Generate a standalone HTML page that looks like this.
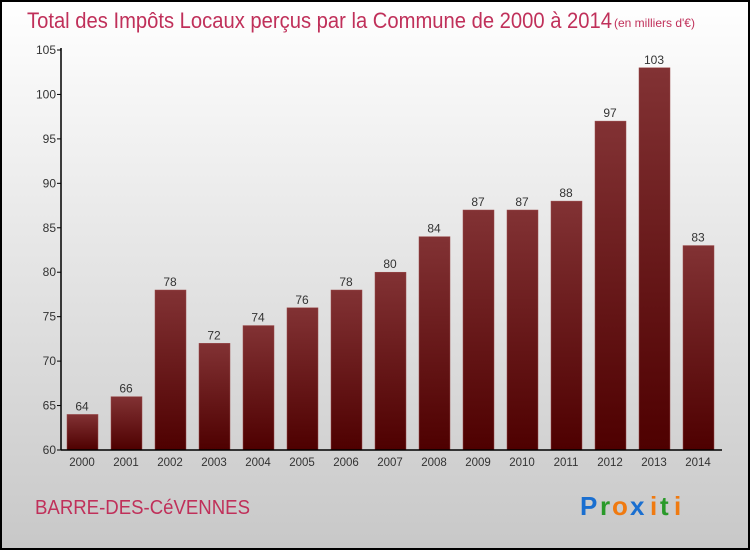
<!DOCTYPE html>
<html><head><meta charset="utf-8"><style>
body{margin:0;width:750px;height:550px;overflow:hidden;font-family:"Liberation Sans",sans-serif}
</style></head><body>
<svg id="c" width="750" height="550" xmlns="http://www.w3.org/2000/svg">
<defs>
<linearGradient id="bg" x1="0" y1="0" x2="0" y2="1"><stop offset="0" stop-color="#ffffff"/><stop offset="1" stop-color="#c8c8c8"/></linearGradient>
<linearGradient id="bar" x1="0" y1="0" x2="0" y2="1"><stop offset="0" stop-color="#823234"/><stop offset="1" stop-color="#4e0000"/></linearGradient>
</defs>
<rect x="1" y="1" width="748" height="548" fill="url(#bg)" stroke="#000" stroke-width="2"/>
<text x="27" y="28" font-size="22" fill="#c0305a" textLength="585" lengthAdjust="spacingAndGlyphs">Total des Impôts Locaux perçus par la Commune de 2000 à 2014</text>
<text x="614" y="27" font-size="12" fill="#c0305a">(en milliers d'€)</text>
<text x="35" y="514" font-size="20" fill="#c0305a" textLength="215" lengthAdjust="spacingAndGlyphs">BARRE-DES-CéVENNES</text>
<g font-size="26" font-weight="bold" font-family="'Liberation Sans',sans-serif">
<text x="580" y="515" fill="#1a6fd0">P</text><text x="600" y="515" fill="#2a9a2a">r</text><text x="612" y="515" fill="#f07a10">o</text><text x="630" y="515" fill="#1a6fd0">x</text><text x="650" y="515" fill="#f07a10">i</text><text x="660" y="515" fill="#2a9a2a">t</text><text x="674" y="515" fill="#f07a10">i</text>
</g>
<g id="plot"></g>
</svg>
<script>
const categories=["2000","2001","2002","2003","2004","2005","2006","2007","2008","2009","2010","2011","2012","2013","2014"];
const values=[64,66,78,72,74,76,78,80,84,87,87,88,97,103,83];
const yTicks=[60,65,70,75,80,85,90,95,100,105];
const NS="http://www.w3.org/2000/svg";
const g=document.getElementById('plot');
const y0=450,y1=50,vmin=60,vmax=105;
const yScale=v=>y0-(v-vmin)/(vmax-vmin)*(y0-y1);
const xScale=i=>82+i*44;
function mk(t,a){const e=document.createElementNS(NS,t);for(const k in a)e.setAttribute(k,a[k]);g.appendChild(e);return e;}
values.forEach((v,i)=>{
 const r=mk('rect',{x:xScale(i)-15,y:yScale(v),width:31,height:y0-yScale(v),fill:'url(#bar)',stroke:'#9a4a4a','stroke-width':0.5});
 
 
 const t=mk('text',{x:xScale(i),y:yScale(v)-4,'text-anchor':'middle','font-size':12,fill:'#333'});
 t.textContent=v;
 
 
 const c=mk('text',{x:xScale(i),y:466,'text-anchor':'middle','font-size':11.5,fill:'#333'});
 c.textContent=categories[i];
 
 
});
yTicks.forEach(v=>{
 const l=mk('line',{x1:57,x2:61,y1:yScale(v),y2:yScale(v),stroke:'#000'});
 
 
 const t=mk('text',{x:56,y:yScale(v)+4,'text-anchor':'end','font-size':12,fill:'#333'});
 t.textContent=v;
 
 
});
const ya=mk('line',{x1:61,x2:61,y1:48,y2:450,stroke:'#000','stroke-width':1.5});


const xa=mk('line',{x1:61,x2:722,y1:450,y2:450,stroke:'#000','stroke-width':1.5});


</script>
</body></html>
